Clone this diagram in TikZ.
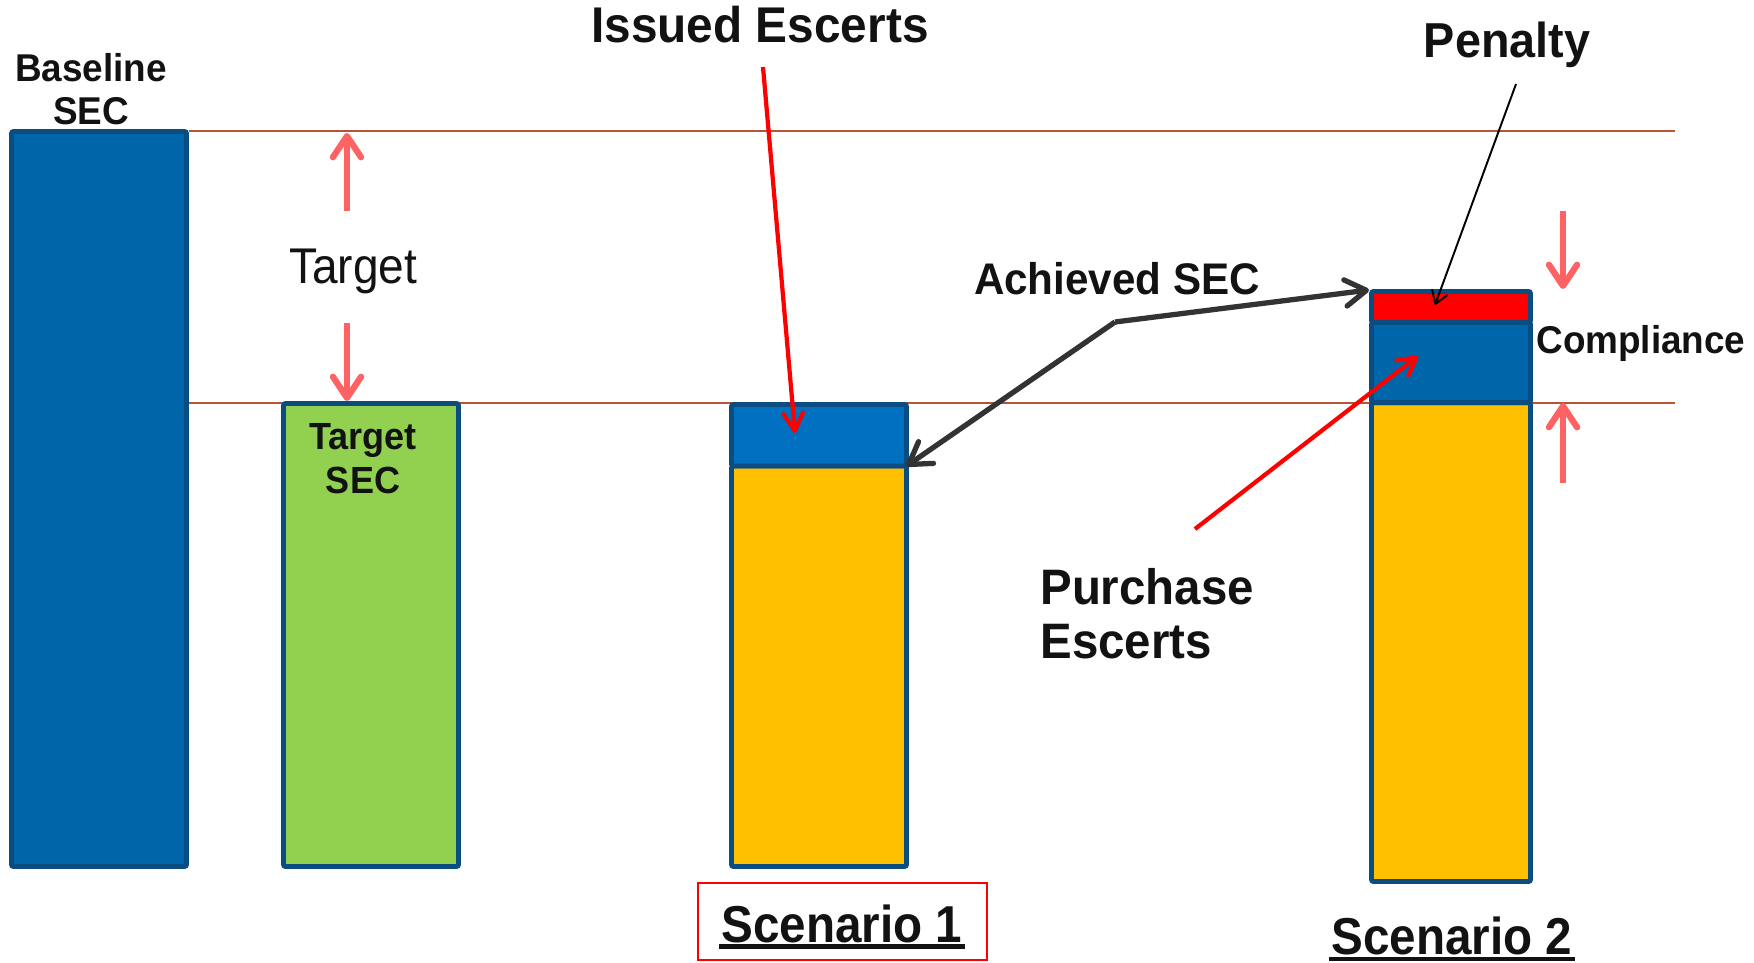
\documentclass[tikz,border=0pt]{standalone}
\usepackage{fontspec}
\setmainfont{Liberation Sans}
\usetikzlibrary{arrows.meta,calc}

\definecolor{barline}{HTML}{0B4D80}
\definecolor{baseblue}{HTML}{0066AA}
\definecolor{brightblue}{HTML}{0070C0}
\definecolor{targetgreen}{HTML}{92D050}
\definecolor{achgold}{HTML}{FFC000}
\definecolor{penred}{HTML}{FF0000}
\definecolor{guidered}{HTML}{B4553A}
\definecolor{gapsalmon}{HTML}{FF6262}
\definecolor{pointgray}{HTML}{333333}

% slightly taller lettering
\newcommand{\tallA}[1]{\scalebox{1}[1.05]{#1}}
\newcommand{\tallB}[1]{\scalebox{1}[1.09]{#1}}

\tikzset{
  bar/.style={draw=barline, line width=2.8pt, rounded corners=1.2pt},
  guide/.style={draw=guidered, line width=1.1pt},
  gaparrow/.style={draw=gapsalmon, line width=3.6pt,
    -{Straight Barb[length=12pt,width=16pt,round]}},
  redpointer/.style={draw=penred, line width=2.4pt,
    -{Straight Barb[length=10pt,width=11pt,round]}},
  graypointer/.style={draw=pointgray, line width=3pt, line join=round,
    -{Straight Barb[length=12pt,width=15pt,round]}},
  thinpointer/.style={draw=black, line width=1.1pt,
    -{Straight Barb[length=7pt,width=9pt,round]}},
  lbl/.style={inner sep=0pt, anchor=base, text=black!93},
  bigbold/.style={lbl, font=\fontsize{26.6pt}{30pt}\selectfont\bfseries},
  midbold/.style={lbl, font=\fontsize{21pt}{24pt}\selectfont\bfseries},
}

\begin{document}
\begin{tikzpicture}[x=0.02cm, y=-0.02cm]
\useasboundingbox (0,0) rectangle (1754,963);

% reference levels
\draw[guide] (189,131) -- (1675,131);
\draw[guide] (189,403) -- (1675,403);

% baseline and target bars
\draw[bar, fill=baseblue] (11.5,131.5) rectangle (186.5,866.5);
\draw[bar, fill=targetgreen] (283.5,403.5) rectangle (458.5,866.5);

% scenario 1 bar
\draw[bar, fill=achgold] (731.5,466) rectangle (906.5,866.5);
\draw[bar, fill=brightblue] (731.5,404.5) rectangle (906.5,466);
\coordinate (s1corner) at (906.5,466);
\coordinate (s1issued) at (795,433);

% scenario 2 bar
\draw[bar, fill=achgold] (1371.5,402.7) rectangle (1530.5,881.5);
\draw[bar, fill=baseblue] (1371.5,322.5) rectangle (1530.5,402.7);
\draw[bar, fill=penred] (1371.5,291.5) rectangle (1530.5,322.5);
\coordinate (s2corner) at (1369,290);
\coordinate (s2penalty) at (1435,305);
\coordinate (s2bought) at (1418,356);

% labels
\node[midbold] (baseA) at (91,82) {\tallA{Baseline}};
\node[midbold] (baseB) at (91,125) {\tallA{SEC}};
\node[lbl, font=\fontsize{26.2pt}{30pt}\selectfont] (tgt) at (353,283) {\tallB{Target}};
\node[midbold, font=\fontsize{20.5pt}{24pt}\selectfont\bfseries] (tsecA) at (363,449) {\tallA{Target}};
\node[midbold, font=\fontsize{20.5pt}{24pt}\selectfont\bfseries] (tsecB) at (363,493) {\tallA{SEC}};
\node[bigbold, font=\fontsize{27.2pt}{30pt}\selectfont\bfseries] (issued) at (760,43) {\tallA{Issued Escerts}};
\node[bigbold] (penalty) at (1507,58) {\tallA{Penalty}};
\node[bigbold, font=\fontsize{24pt}{28pt}\selectfont\bfseries] (achieved) at (1117,294) {\tallA{Achieved SEC}};
\node[bigbold, anchor=base west, font=\fontsize{27pt}{30pt}\selectfont\bfseries] (purA) at (1040,604) {\tallA{Purchase}};
\node[bigbold, anchor=base west, font=\fontsize{27pt}{30pt}\selectfont\bfseries] (purB) at (1040,658) {\tallA{Escerts}};
\node[midbold, anchor=base west] (compl) at (1536,353) {\tallA{Compliance}};
\node[bigbold, font=\fontsize{27.1pt}{30pt}\selectfont\bfseries] (scen1) at (842,942) {\tallB{Scenario 1}};
\node[bigbold, font=\fontsize{27.1pt}{30pt}\selectfont\bfseries] (scen2) at (1452,954.5) {\tallB{Scenario 2}};

% underlines and frame of the scenario captions
\draw[line width=2.8pt, black!93] ($(scen1.base west)+(-2,4.5)$) -- ($(scen1.base east)+(2,4.5)$);
\draw[line width=2.8pt, black!93] ($(scen2.base west)+(-2,4.5)$) -- ($(scen2.base east)+(2,4.5)$);
\draw[draw=penred, line width=1.2pt] (698,883) rectangle (987,960);

% target gap arrows
\coordinate (tgtUpFrom) at (347,211);
\coordinate (tgtUpTo) at (347,133);
\coordinate (tgtDnFrom) at (347,323);
\coordinate (tgtDnTo) at (347,401);
\draw[gaparrow] (tgtUpFrom) -- (tgtUpTo);
\draw[gaparrow] (tgtDnFrom) -- (tgtDnTo);

% compliance gap arrows
\coordinate (cDnFrom) at (1563,211);
\coordinate (cDnTo) at (1563,289);
\coordinate (cUpFrom) at (1563,483);
\coordinate (cUpTo) at (1563,403);
\draw[gaparrow] (cDnFrom) -- (cDnTo);
\draw[gaparrow] (cUpFrom) -- (cUpTo);

% pointers
\coordinate (issuedTail) at (763,67);
\draw[redpointer] (issuedTail) -- (s1issued);

\coordinate (achKink) at (1115,322);
\draw[graypointer] (achKink) -- (s2corner);
\draw[graypointer] (achKink) -- (s1corner);

\coordinate (penTail) at (1516,84);
\draw[thinpointer] (penTail) -- (s2penalty);

\coordinate (purTail) at (1195,529);
\draw[redpointer] (purTail) -- (s2bought);
\end{tikzpicture}
\end{document}
